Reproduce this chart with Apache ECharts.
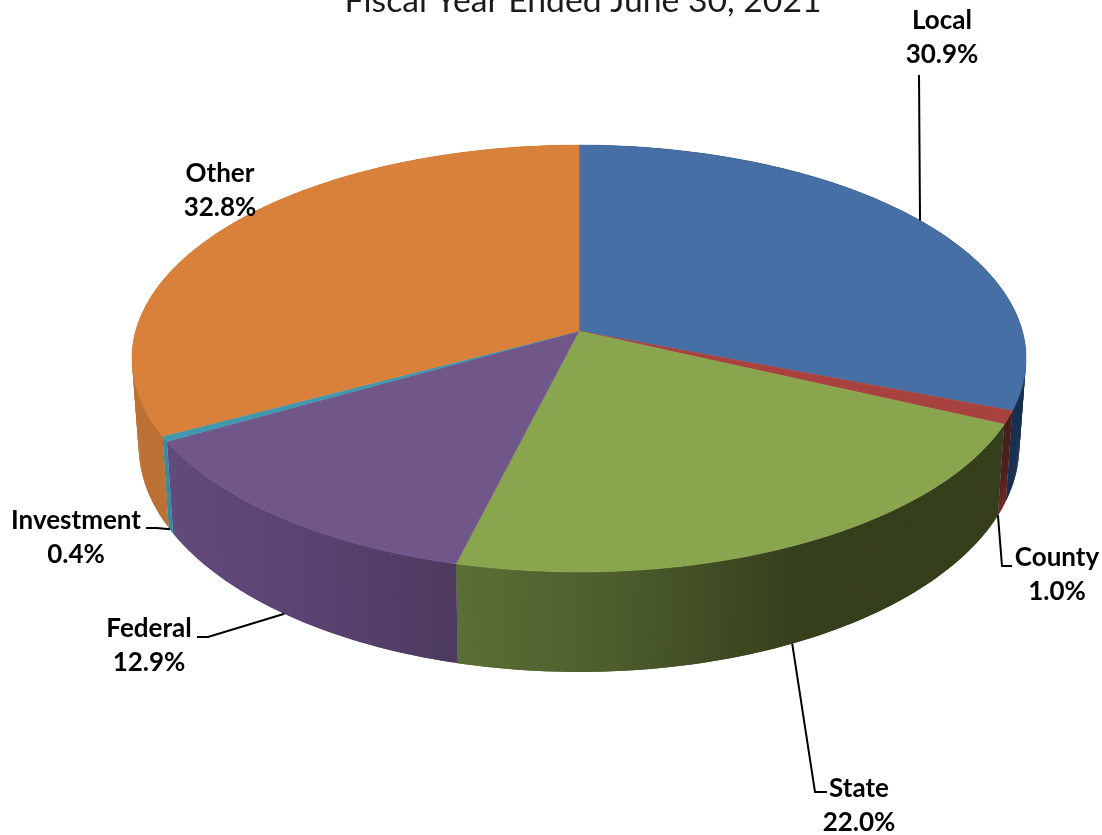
<!DOCTYPE html>
<html>
<head>
<meta charset="utf-8">
<script src="https://cdn.jsdelivr.net/npm/echarts@6/dist/echarts.min.js"></script>
<style>html,body{margin:0;padding:0;background:#fff}#chart{width:1102px;height:835px}</style>
</head>
<body>
<div id="chart"></div>
<script>
// Revenue shares, in percent, clockwise from twelve o'clock
const categories = ['Local', 'County', 'State', 'Federal', 'Investment', 'Other'];
const shares = [30.9, 1.0, 22.0, 12.9, 0.4, 32.8];
const chartTitle = 'Fiscal Year Ended June 30, 2021';

const topColors = ['#4670A5', '#A8423F', '#89A54E', '#71568A', '#4198AF', '#D9803B'];
// Side wall shading: stops run left to right across a slice, or downwards where flagged
const wallStops = [
  [[0, '#1B3050'], [1, '#1B3050']],
  [[0, '#471E1C'], [0.6, '#4E201E'], [1, '#7A2A27']],
  [[0, '#5A6F35'], [0.3, '#4C5C2C'], [0.62, '#363F1C'], [1, '#363F1C']],
  [[0, '#624B7C'], [0.5, '#5A4372'], [1, '#4D3A5E']],
  [[0, '#3A8BA0'], [1, '#3A8BA0']],
  [[0, '#BC7135'], [1, '#BC7135']]
];
const wallGradientVertical = [false, true, false, false, false, false];

// Projection of the disc: a tilted circle seen in perspective
const disc = { cx: 579, cy: 331, a: 443.3, b: 209.9, k: 0.129 };
const base = { shrink: 0.985, stretch: 1.06, drop: 65.6 };

function topPoint(angle) {
  const X = Math.sin(angle), Y = -Math.cos(angle), w = 1 - disc.k * Y;
  return [disc.cx + disc.a * X / w, disc.cy + disc.b * Y / w];
}
function basePoint(angle) {
  const p = topPoint(angle);
  return [disc.cx + (p[0] - disc.cx) * base.shrink, base.drop + base.stretch * p[1]];
}
function arc(fn, from, to) {
  const n = Math.max(4, Math.ceil(Math.abs(to - from) * 90));
  const pts = [];
  for (let i = 0; i <= n; i++) pts.push(fn(from + (to - from) * i / n));
  return pts;
}
function shade(stops, t) {
  for (let s = 1; s < stops.length; s++) {
    if (t <= stops[s][0]) {
      const u = (t - stops[s - 1][0]) / (stops[s][0] - stops[s - 1][0] || 1);
      return echarts.color.lerp(u, [stops[s - 1][1], stops[s][1]]);
    }
  }
  return stops[stops.length - 1][1];
}

// Callout placement: where on the slice the leader starts, its bend points, label centre
const callouts = [
  { on: topPoint, t: 0.5, tail: [[919, 75]], at: [942, 38] },
  { on: basePoint, t: 1, tail: [[1002, 566], [1012, 566]], at: [1057, 575] },
  { on: basePoint, t: 0.5, tail: [[815, 792], [827, 792]], at: [859, 806] },
  { on: basePoint, t: 0.5, tail: [[208, 637], [197, 637]], at: [149, 646] },
  { on: basePoint, t: 0.75, tail: [[157, 528], [146, 528]], at: [76, 538] },
  { on: null, t: 0.5, tail: [], at: [220, 191] }
];

const total = shares.reduce((s, v) => s + v, 0);
const starts = [];
shares.reduce((acc, v, i) => { starts[i] = acc; return acc + v; }, 0);

function renderSlice(params, api) {
  const i = params.dataIndex;
  const v = api.value(0);
  const from = starts[i] / total * 2 * Math.PI;
  const to = from + v / total * 2 * Math.PI;
  const children = [];

  // The wall is a run of overlapping quads, so its outline follows the disc's silhouette
  // and no seam opens between neighbours
  const upper = arc(topPoint, from, to);
  const lower = arc(basePoint, from, to);
  const xs = upper.map(p => p[0]);
  const xMin = Math.min(...xs), xMax = Math.max(...xs);
  const last = upper.length - 1;
  for (let q = 0; q < last; q++) {
    const next = Math.min(q + 2, last);
    const mid = (upper[q][0] + upper[q + 1][0]) / 2;
    const fill = wallGradientVertical[i]
      ? new echarts.graphic.LinearGradient(0, 0, 0, 1, wallStops[i].map(s => ({ offset: s[0], color: s[1] })))
      : shade(wallStops[i], (mid - xMin) / (xMax - xMin || 1));
    children.push({
      type: 'polygon', z2: 1,
      shape: { points: [upper[q], upper[next], lower[next], lower[q]] },
      style: { fill }
    });
  }

  const face = [[disc.cx, disc.cy]].concat(upper);
  children.push({
    type: 'polygon', z2: 10, shape: { points: face },
    style: { fill: topColors[i], stroke: topColors[i], lineWidth: 0.5 }
  });

  const c = callouts[i];
  if (c.on) {
    const start = c.on(from + (to - from) * c.t);
    children.push({
      type: 'polyline', z2: 20, shape: { points: [start].concat(c.tail) },
      style: { fill: null, stroke: '#000', lineWidth: 2 }
    });
  }
  children.push({
    type: 'text', z2: 30, x: c.at[0], y: c.at[1],
    style: {
      text: categories[i] + '\n' + v.toFixed(1) + '%',
      fill: '#000', font: 'bold 26px Lato', lineHeight: 34,
      align: 'center', verticalAlign: 'middle'
    }
  });
  return { type: 'group', children };
}

const chart = echarts.init(document.getElementById('chart'), null, { renderer: 'canvas' });
chart.setOption({
  animation: false,
  backgroundColor: '#fff',
  title: {
    text: chartTitle, left: 578, textAlign: 'center', top: -21,
    textStyle: { fontFamily: 'Lato', fontWeight: 'normal', fontSize: 33.7, color: '#1a1a1a' }
  },
  series: [{
    type: 'custom',
    coordinateSystem: 'none',
    silent: true,
    renderItem: renderSlice,
    data: shares.map((v, i) => ({ name: categories[i], value: [v] }))
  }]
});
</script>
</body>
</html>
